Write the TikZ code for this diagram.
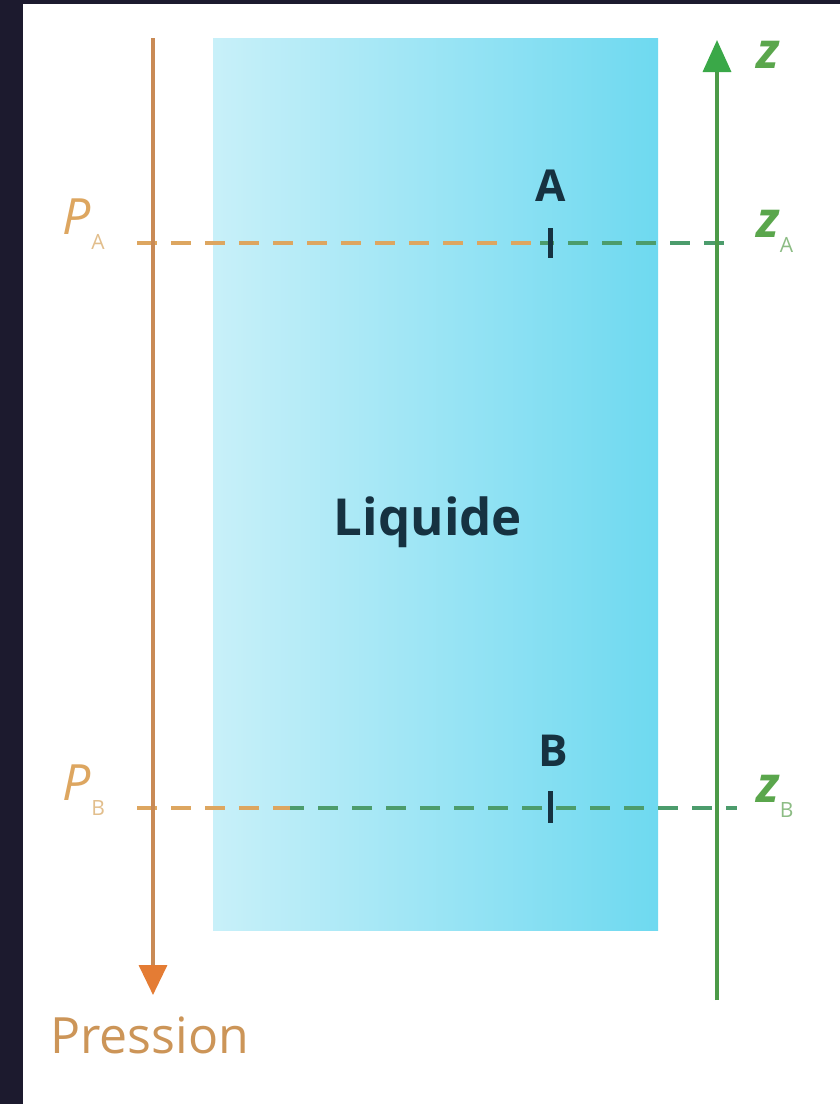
\documentclass[tikz,border=0pt]{standalone}
\usepackage{fontspec}
\setmainfont{Open Sans}
\usetikzlibrary{arrows.meta}
\definecolor{frame}{HTML}{1C1A2E}
\definecolor{liqL}{HTML}{C8F0F9}
\definecolor{liqR}{HTML}{6ED9F0}
\definecolor{orax}{HTML}{C98A55}
\definecolor{orhead}{HTML}{E47C34}
\definecolor{orlab}{HTML}{DDA660}
\definecolor{orsub}{HTML}{E2BE8C}
\definecolor{orpress}{HTML}{CC9558}
\definecolor{grax}{HTML}{4C9A48}
\definecolor{grhead}{HTML}{3AA848}
\definecolor{grlab}{HTML}{5AA64C}
\definecolor{grsub}{HTML}{8CBC84}
\definecolor{grdash}{HTML}{4C9C6C}
\definecolor{ink}{HTML}{163241}
\tikzset{
  axisline/.style={line width=3.5pt},
  dashline/.style={line width=3.5pt, dash pattern=on 20pt off 14pt},
  ticker/.style={line width=5pt, ink},
  biglab/.style={inner sep=0pt, font=\fontsize{50}{50}\selectfont},
  ptlab/.style={inner sep=0pt, text=ink, font=\fontsize{44}{44}\selectfont\bfseries},
}
\newcommand{\subA}[2]{\kern1pt\raisebox{-15pt}{\fontsize{21}{21}\selectfont\upshape\mdseries\color{#1}#2}}
\begin{document}
\begin{tikzpicture}[x=1pt,y=-1pt]
\useasboundingbox (0,0) rectangle (840,1104);
\fill[white] (0,0) rectangle (840,1104);
\fill[frame] (0,0) rectangle (23,1104);
\fill[frame] (0,0) rectangle (840,4);
% liquid
\shade[left color=liqL, right color=liqR] (213,38) rectangle (658,930);
\node[ptlab, font=\fontsize{51}{51}\selectfont\bfseries] (liq) at (428,522) {Liquide};
% coordinates
\coordinate (pTop) at (153,38);
\coordinate (pBot) at (153,995);
\coordinate (zBot) at (717,1000);
\coordinate (zTop) at (717,40);
\coordinate (aL) at (137,243);
\coordinate (aM) at (540,243);
\coordinate (aR) at (737,243);
\coordinate (bL) at (137,808);
\coordinate (bM) at (290,808);
\coordinate (bR) at (737,808);
\coordinate (ta1) at (550,228);
\coordinate (ta2) at (550,258);
\coordinate (tb1) at (550,791);
\coordinate (tb2) at (550,823);
% dashed levels
\draw[dashline, orlab] (aL) -- (aM);
\draw[dashline, grdash, dash phase=6pt] (aM) -- (aR);
\draw[dashline, orlab] (bL) -- (bM);
\draw[dashline, grdash, dash phase=6pt] (bM) -- (bR);
% axes
\draw[axisline, orax, -{Triangle[length=30pt,width=28pt,color=orhead]}] (pTop) -- (pBot);
\draw[axisline, grax, -{Triangle[length=32pt,width=28pt,color=grhead]}] (zBot) -- (zTop);
% ticks
\draw[ticker] (ta1) -- (ta2);
\draw[ticker] (tb1) -- (tb2);
% point labels
\node[ptlab] (A) at (551,186) {A};
\node[ptlab] (B) at (553,751) {B};
% axis labels
\node[biglab, text=orpress, anchor=base west] (press) at (50,1053) {Pression};
\node[biglab, text=orlab, anchor=base west] (PA) at (62,234) {\itshape P\subA{orsub}{A}};
\node[biglab, text=orlab, anchor=base west] (PB) at (62,800) {\itshape P\subA{orsub}{B}};
\node[biglab, text=grlab, anchor=base west] (z) at (756,68) {\bfseries\itshape z};
\node[biglab, text=grlab, anchor=base west] (zA) at (756,237) {\bfseries\itshape z\subA{grsub}{A}};
\node[biglab, text=grlab, anchor=base west] (zB) at (756,802) {\bfseries\itshape z\subA{grsub}{B}};
\end{tikzpicture}
\end{document}
